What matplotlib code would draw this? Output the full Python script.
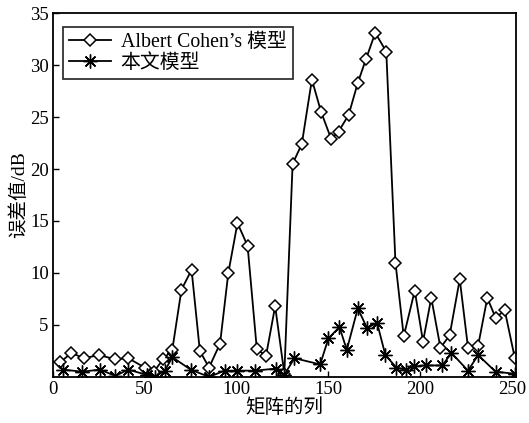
import matplotlib
matplotlib.use("Agg")
import matplotlib.pyplot as plt
from matplotlib.markers import MarkerStyle

plt.rcParams['font.family'] = ['Liberation Serif', 'Noto Sans CJK SC']
plt.rcParams['mathtext.fontset'] = 'stix'

# Albert Cohen's model
cohen_x = [4, 10, 17, 25, 34, 41, 50, 55, 60, 65, 70, 75.5, 80, 85, 91, 95.5,
           100.5, 106, 111, 116, 121, 126, 130.5, 135.5, 141, 146, 151.5, 155.5,
           161, 166, 170.5, 175.5, 181.5, 186.5, 191, 197, 201.5, 206, 211, 216,
           221.5, 226, 231.5, 236.5, 241, 246, 251.5]
cohen_y = [1.4, 2.3, 1.8, 2.1, 1.7, 1.8, 0.9, 0.5, 1.7, 2.6, 8.4, 10.3, 2.5, 0.9,
           3.2, 10.0, 14.8, 12.6, 2.7, 2.0, 6.8, 0.3, 20.5, 22.4, 28.6, 25.5,
           22.9, 23.6, 25.2, 28.3, 30.6, 33.1, 31.3, 11.0, 3.9, 8.3, 3.4, 7.6,
           2.8, 4.0, 9.4, 2.8, 3.0, 7.6, 5.7, 6.4, 1.8]

# This paper's model
ours_x = [5.5, 16, 25.5, 34, 41, 51, 55.5, 61, 65, 75, 85, 93.5, 100.5, 110,
          121.5, 126, 131.5, 145.5, 150, 156, 160, 166, 171, 176.5, 181, 187,
          192, 196.5, 203, 212, 217, 226, 231.5, 241, 251.5]
ours_y = [0.7, 0.5, 0.7, 0.1, 0.7, 0.2, 0.0, 0.6, 1.9, 0.7, 0.0, 0.6, 0.6, 0.6,
          0.8, 0.2, 1.8, 1.2, 3.7, 4.8, 2.6, 6.6, 4.7, 5.2, 2.1, 0.9, 0.7, 1.0,
          1.1, 1.1, 2.3, 0.6, 2.1, 0.5, 0.3]

labels = ["Albert Cohen\u2019s 模型", "本文模型"]
xticks = [0, 50, 100, 150, 200, 250]
yticks = [5, 10, 15, 20, 25, 30, 35]

fig = plt.figure(figsize=(5.29, 4.23), dpi=100)
ax = fig.add_axes([0.100, 0.109, 0.875, 0.860])

ax.plot(cohen_x, cohen_y, color='black', lw=1.3, marker='D', markersize=6.5,
        markerfacecolor='white', markeredgecolor='black', markeredgewidth=1.1,
        label=labels[0])
ax.plot(ours_x, ours_y, color='black', lw=1.3, marker=MarkerStyle((8, 2, 0)),
        markersize=10, markeredgewidth=1.0, markeredgecolor='black',
        label=labels[1])

ax.set_xlim(0, 252)
ax.set_ylim(0, 35)
ax.set_xticks(xticks)
ax.set_yticks(yticks)
ax.tick_params(direction='in', length=4, width=1, labelsize=13.5,
               top=False, right=False, pad=3)
for s in ax.spines.values():
    s.set_linewidth(1.3)

ax.set_xlabel("矩阵的列", fontsize=14, labelpad=0)
ax.set_ylabel("误差值/dB", fontsize=14, labelpad=1)

leg = ax.legend(loc='upper left', bbox_to_anchor=(0.022, 0.962), fontsize=14.3,
                frameon=True, fancybox=False, edgecolor='black',
                handlelength=2.1, handletextpad=0.5, borderpad=0.3,
                labelspacing=0.1, borderaxespad=0.0)
leg.get_frame().set_linewidth(1.3)

fig.savefig("out.png", dpi=100)
